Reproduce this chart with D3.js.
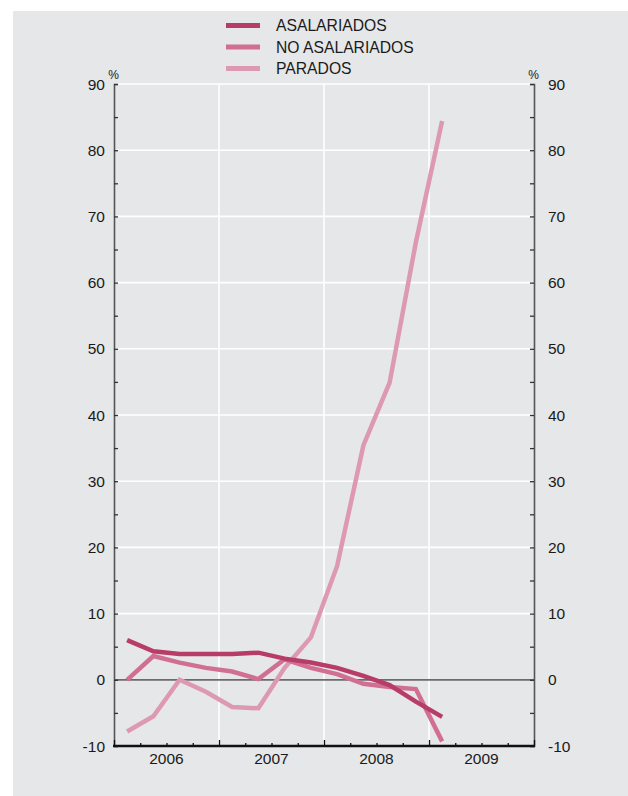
<!DOCTYPE html>
<html>
<head>
<meta charset="utf-8">
<script src="https://cdn.jsdelivr.net/npm/d3@7"></script>
<style>
  html, body { margin: 0; padding: 0; background: #ffffff; }
  svg { display: block; }
  text { font-family: "Liberation Sans", Arial, Helvetica, sans-serif; fill: #1a1a1a; }
</style>
</head>
<body>
<svg id="chart" width="628" height="796"></svg>
<script>
// ---- data ----
const quarters = ["2006T1","2006T2","2006T3","2006T4","2007T1","2007T2","2007T3","2007T4","2008T1","2008T2","2008T3","2008T4","2009T1"];
const asalariados   = [6.0, 4.3, 3.9, 3.9, 3.9, 4.1, 3.2, 2.6, 1.8, 0.6, -0.8, -3.3, -5.6];
const noAsalariados = [0.0, 3.6, 2.6, 1.8, 1.25, 0.1, 3.1, 1.8, 0.85, -0.6, -1.1, -1.4, -9.3];
const parados       = [-7.8, -5.5, 0.0, -1.8, -4.1, -4.3, 1.8, 6.4, 17.2, 35.4, 44.9, 66.1, 84.4];
const seriesNames   = ["ASALARIADOS", "NO ASALARIADOS", "PARADOS"];
const seriesColors  = ["#b73c66", "#d06f92", "#dd99b0"];
const yTicks        = [-10, 0, 10, 20, 30, 40, 50, 60, 70, 80, 90];
const yearLabels    = ["2006", "2007", "2008", "2009"];

(function () {
// ---- layout ----
const svg = d3.select("#chart");
const W = 628, H = 796;
const pl = 114, pr = 534, pt = 84, pb = 746;

svg.append("rect").attr("x", 13).attr("y", 11).attr("width", W - 13).attr("height", H - 11).attr("fill", "#e6e7e8");

const qPos = q => { const yr = +q.slice(0, 4), n = +q.slice(5); return yr + (n - 0.5) / 4; };
const x = d3.scaleLinear().domain([2006, 2010]).range([pl, pr]);
const y = d3.scaleLinear().domain([-10, 90]).range([pb, pt]);

// grid
const g = svg.append("g");
g.selectAll("line.hg").data(yTicks.filter(v => v > 0)).join("line")
  .attr("x1", pl).attr("x2", pr).attr("y1", d => y(d)).attr("y2", d => y(d))
  .attr("stroke", "#ffffff").attr("stroke-width", 1.6);
g.selectAll("line.vg").data([2007, 2008, 2009]).join("line")
  .attr("x1", d => x(d)).attr("x2", d => x(d)).attr("y1", pt).attr("y2", pb)
  .attr("stroke", "#ffffff").attr("stroke-width", 1.6);
// zero line
g.append("line").attr("x1", pl).attr("x2", pr).attr("y1", y(0)).attr("y2", y(0))
  .attr("stroke", "#6b6b6b").attr("stroke-width", 1.8);

// y axes
const minorY = d3.range(-10, 91, 5);
const leftAxis = d3.axisRight(y).tickValues(minorY).tickSize(4).tickFormat("");
const rightAxis = d3.axisLeft(y).tickValues(minorY).tickSize(4).tickFormat("");
const la = svg.append("g").attr("transform", `translate(${pl},0)`).call(leftAxis);
const ra = svg.append("g").attr("transform", `translate(${pr},0)`).call(rightAxis);
[la, ra].forEach(a => {
  a.select(".domain").attr("stroke", "#555").attr("stroke-width", 1.6);
  a.selectAll(".tick line").attr("stroke", "#333").attr("stroke-width", 1.3);
});

svg.append("g").selectAll("text").data(yTicks).join("text")
  .attr("x", pl - 9).attr("y", d => y(d)).attr("dy", "0.36em")
  .attr("text-anchor", "end").attr("font-size", 15.5).text(d => d);
svg.append("g").selectAll("text").data(yTicks).join("text")
  .attr("x", pr + 14).attr("y", d => y(d)).attr("dy", "0.36em")
  .attr("text-anchor", "start").attr("font-size", 15.5).text(d => d);
svg.append("text").attr("x", pl - 0.5).attr("y", 79).attr("text-anchor", "middle").attr("font-size", 12).text("%");
svg.append("text").attr("x", pr - 0.5).attr("y", 79).attr("text-anchor", "middle").attr("font-size", 12).text("%");

// x axis
const quarterTicks = d3.range(2006, 2010.001, 0.25);
const xa = svg.append("g").attr("transform", `translate(0,${pb})`)
  .call(d3.axisTop(x).tickValues(quarterTicks).tickSize(3).tickFormat(""));
xa.select(".domain").remove();
xa.selectAll(".tick line").attr("stroke", "#111").attr("stroke-width", 1.3)
  .attr("y2", d => Math.abs(d - Math.round(d)) < 1e-6 ? -6 : -3);
svg.append("line").attr("x1", pl - 1).attr("x2", pr + 1).attr("y1", pb).attr("y2", pb)
  .attr("stroke", "#111").attr("stroke-width", 2.4);
svg.append("g").selectAll("text").data(yearLabels).join("text")
  .attr("x", d => x(+d + 0.5)).attr("y", 764).attr("text-anchor", "middle")
  .attr("font-size", 15.5).text(d => d);

// lines
const allSeries = [asalariados, noAsalariados, parados];
const line = d3.line().x((d, i) => x(qPos(quarters[i]))).y(d => y(d));
[2, 1, 0].forEach(k => {
  svg.append("path").datum(allSeries[k]).attr("d", line)
    .attr("fill", "none").attr("stroke", seriesColors[k]).attr("stroke-width", 4.5)
    .attr("stroke-linejoin", "miter");
});

// legend
const lg = svg.append("g");
seriesNames.forEach((n, i) => {
  const ly = 25.5 + i * 21.5;
  lg.append("line").attr("x1", 226).attr("x2", 260).attr("y1", ly).attr("y2", ly)
    .attr("stroke", seriesColors[i]).attr("stroke-width", 5);
  lg.append("text").attr("x", 276).attr("y", ly).attr("dy", "0.36em")
    .attr("font-size", 15.7).text(n);
});
})();
</script>
</body>
</html>
